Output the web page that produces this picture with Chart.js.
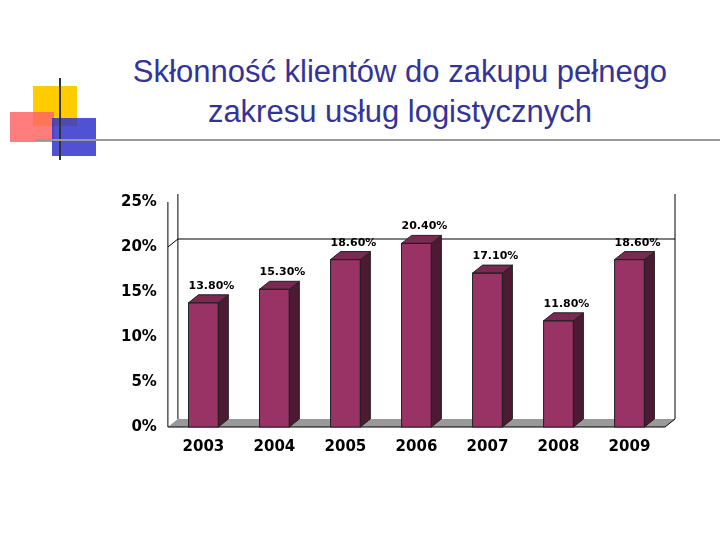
<!DOCTYPE html><html><head><meta charset="utf-8">
<script src="https://cdn.jsdelivr.net/npm/chart.js@4"></script>
<style>body{margin:0;width:720px;height:540px;position:relative;background:#fff;font-family:"Liberation Sans",Arial,sans-serif}
#t{position:absolute;left:80px;width:640px;top:52px;text-align:center;color:#333399;font-size:31px;line-height:40px}
#c{position:absolute;left:0;top:0}</style></head><body>
<svg width="720" height="170" style="position:absolute;left:0;top:0">
<rect x="33" y="86" width="44" height="40" fill="#ffcc00"/>
<rect x="10" y="112" width="44" height="30" fill="#ff6666" opacity="0.85"/>
<rect x="52" y="118" width="44" height="38" fill="#3333cc" opacity="0.85"/>
<line x1="60" y1="78" x2="60" y2="160" stroke="#333" stroke-width="2"/>
<line x1="35" y1="140" x2="720" y2="140" stroke="#999" stroke-width="2"/>
</svg>
<div id="t">Skłonność klientów do zakupu pełnego<br>zakresu usług logistycznych</div>
<canvas id="c" width="720" height="540"></canvas>
<script>
const categories=["2003","2004","2005","2006","2007","2008","2009"];
const values=[13.8,15.3,18.6,20.4,17.1,11.8,18.6];
const yTicks=[0,5,10,15,20,25];
const gridAt=[20];
const DX=10,DY=-8;
const threeD={id:'threeD',
beforeDatasetsDraw(ch){const c=ch.ctx,a=ch.chartArea,y=ch.scales.y;c.save();
 c.fillStyle='#999';c.beginPath();c.moveTo(a.left,a.bottom);c.lineTo(a.left+DX,a.bottom+DY);c.lineTo(a.right+DX,a.bottom+DY);c.lineTo(a.right,a.bottom);c.closePath();c.fill();
 c.strokeStyle='#000';c.lineWidth=1;
 gridAt.forEach(v=>{const py=y.getPixelForValue(v);c.beginPath();c.moveTo(a.left,py);c.lineTo(a.left+DX,py+DY);c.lineTo(a.right+DX,py+DY);c.stroke();});
 c.beginPath();c.moveTo(a.left+DX,a.top+DY);c.lineTo(a.left+DX,a.bottom+DY);c.moveTo(a.right+DX,a.top+DY);c.lineTo(a.right+DX,a.bottom+DY);c.stroke();
 c.beginPath();c.moveTo(a.left,a.top);c.lineTo(a.left,a.bottom);c.lineTo(a.right,a.bottom);c.lineTo(a.right+DX,a.bottom+DY);c.stroke();
 c.restore();},
afterDatasetsDraw(ch){const c=ch.ctx;c.save();
 ch.getDatasetMeta(0).data.forEach((b,i)=>{const l=b.x-b.width/2,r=b.x+b.width/2,t=b.y,bt=b.base;
  c.fillStyle='#4d1a33';c.beginPath();c.moveTo(r,t);c.lineTo(r+DX,t+DY);c.lineTo(r+DX,bt+DY);c.lineTo(r,bt);c.closePath();c.fill();c.strokeStyle='#222';c.stroke();
  c.fillStyle='#7a2951';c.beginPath();c.moveTo(l,t);c.lineTo(l+DX,t+DY);c.lineTo(r+DX,t+DY);c.lineTo(r,t);c.closePath();c.fill();c.stroke();
  c.strokeRect(l,t,r-l,bt-t);
  c.fillStyle='#000';c.font='bold 11px "DejaVu Sans"';c.textAlign='center';
  c.fillText(values[i].toFixed(2)+'%',b.x+8,t-14);});
 c.restore();}};
new Chart(document.getElementById('c'),{type:'bar',
data:{labels:categories,datasets:[{data:values,backgroundColor:'#993366',barPercentage:0.42,categoryPercentage:1}]},
options:{responsive:false,animation:false,events:[],
 layout:{padding:{left:118,top:202,right:55,bottom:81}},
 plugins:{legend:{display:false},tooltip:{enabled:false}},
 scales:{y:{min:0,max:25,afterBuildTicks:s=>{s.ticks=yTicks.map(v=>({value:v}))},
  grid:{display:false,drawTicks:true},border:{display:false},
  ticks:{color:'#000',font:{size:15,weight:'bold',family:'DejaVu Sans'},callback:v=>v+'%'}},
  x:{grid:{display:false},border:{display:false},ticks:{color:'#000',font:{size:15,weight:'bold',family:'DejaVu Sans'}}}}},
plugins:[threeD]});
</script></body></html>
